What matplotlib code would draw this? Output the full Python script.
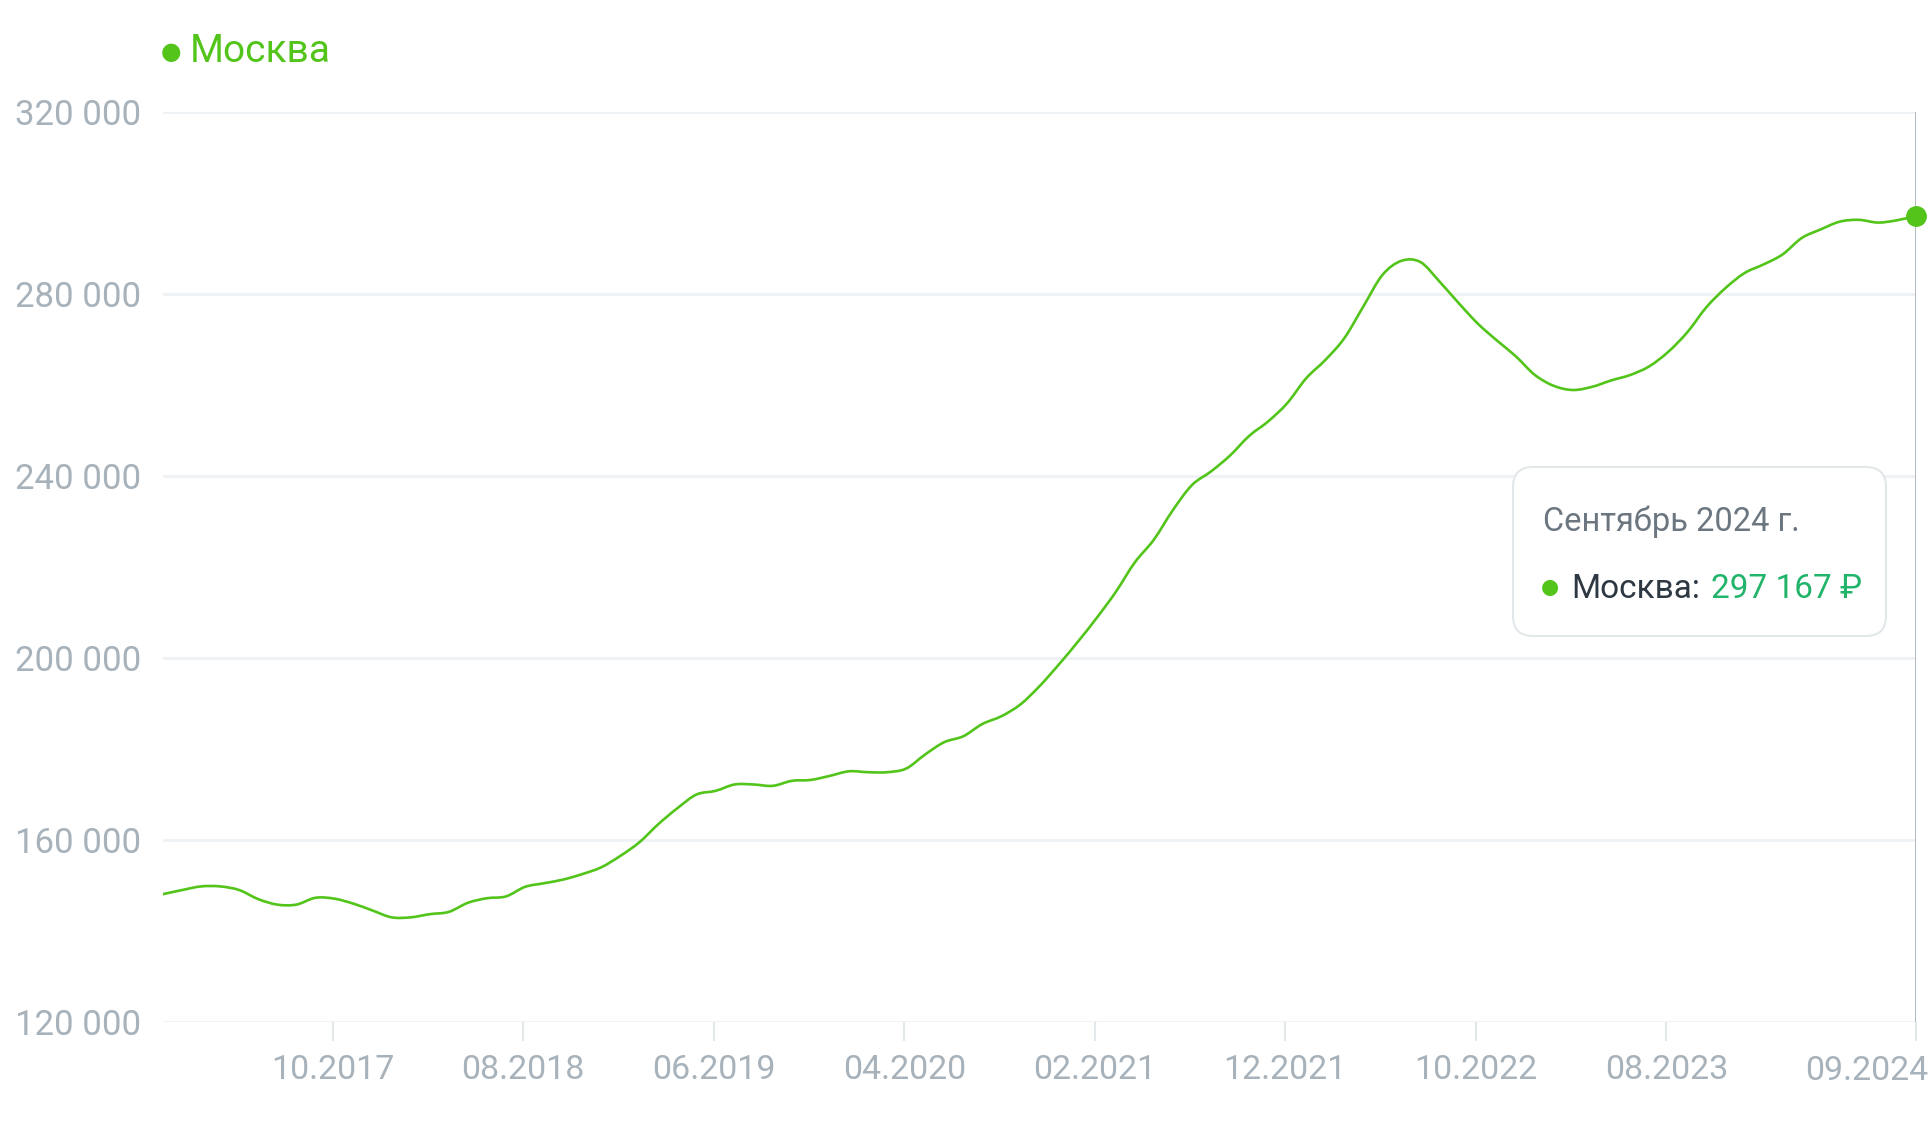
import matplotlib
matplotlib.use("Agg")
import matplotlib.pyplot as plt
from matplotlib.patches import FancyBboxPatch, PathPatch
from matplotlib.path import Path
from matplotlib.transforms import IdentityTransform

plt.rcParams['font.family'] = ['Roboto', 'DejaVu Sans']

# средняя цена, руб. за м2, помесячно 01.2017 - 09.2024
months = list(range(93))
price = [
    148100, 149000, 149800, 149800, 149000, 147000, 145800, 145800, 147300, 147100,
    146000, 144500, 143000, 143000, 143700, 144200, 146200, 147200, 147600, 149700,
    150500, 151300, 152500, 154000, 156500, 159500, 163500, 167000, 170000, 170800,
    172200, 172200, 171900, 173000, 173200, 174100, 175100, 174900, 174900, 175700,
    178800, 181500, 182800, 185500, 187200, 189800, 193800, 198500, 203500, 208800,
    214500, 221000, 226000, 232500, 238000, 241000, 244500, 248800, 252000, 256000,
    261500, 265500, 270300, 277300, 284200, 287300, 287000, 282700, 278000, 273500,
    269800, 266300, 262200, 259800, 258900, 259600, 261000, 262200, 264100, 267300,
    271600, 277100, 281300, 284600, 286500, 288700, 292300, 294200, 295900, 296300,
    295700, 296200, 297167,
]
tick_pos = [8.9, 18.9, 28.9, 38.9, 48.9, 58.9, 68.9, 78.9, 92]
tick_labels = ['10.2017', '08.2018', '06.2019', '04.2020', '02.2021',
               '12.2021', '10.2022', '08.2023', '09.2024']
y_ticks = [120000, 160000, 200000, 240000, 280000, 320000]
y_labels = ['120 000', '160 000', '200 000', '240 000', '280 000', '320 000']

green = '#52c41a'
grey_txt = '#a7b2bb'
grid_c = '#eef2f4'

W, H = 1929, 1122
fig = plt.figure(figsize=(W / 100, H / 100), dpi=100)
ax = fig.add_axes([163 / W, 1 - 1022 / H, (1916 - 163) / W, (1022 - 112) / H])

ax.set_xlim(0, 92)
ax.set_ylim(120000, 320000)
for s in ax.spines.values():
    s.set_visible(False)

ax.set_yticks(y_ticks)
ax.set_yticklabels(y_labels)
ax.set_xticks(tick_pos)
ax.set_xticklabels(tick_labels[:-1] + [''])
ax.grid(axis='y', color=grid_c, lw=2, zorder=0)
ax.tick_params(axis='y', length=0, pad=16, labelsize=25, labelcolor=grey_txt)
ax.tick_params(axis='x', length=14, width=1.5, color='#e3e8eb', pad=9,
               labelsize=24.5, labelcolor=grey_txt)
ax.set_axisbelow(True)
# последняя подпись прижата к правому краю
fig.text(1928 / W, 1 - 1071 / H, tick_labels[-1], color=grey_txt, fontsize=24.5,
         ha='right', va='center')

# сглаженная линия (кривые Безье через точки данных)
verts = [(months[0], price[0])]
codes = [Path.MOVETO]
n = len(months)
for i in range(n - 1):
    x0, y0 = months[max(i - 1, 0)], price[max(i - 1, 0)]
    x1, y1 = months[i], price[i]
    x2, y2 = months[i + 1], price[i + 1]
    x3, y3 = months[min(i + 2, n - 1)], price[min(i + 2, n - 1)]
    verts += [(x1 + (x2 - x0) / 6, y1 + (y2 - y0) / 6),
              (x2 - (x3 - x1) / 6, y2 - (y3 - y1) / 6),
              (x2, y2)]
    codes += [Path.CURVE4] * 3
line = PathPatch(Path(verts, codes), facecolor='none', edgecolor=green, lw=1.9,
                 zorder=3, capstyle='round', joinstyle='round')
ax.add_patch(line)

ax.axvline(months[-1], color='#a9b3bb', lw=2, zorder=2)
ax.plot(months[-1], price[-1], 'o', color=green, ms=14, zorder=5, clip_on=False)

# легенда
fig.text(171 / W, 1 - 52 / H, '\u25cf', color=green, fontsize=17, ha='center', va='center')
fig.text(190 / W, 1 - 51.5 / H, 'Москва', color=green, fontsize=28, ha='left', va='center')

# всплывающая подсказка
box = FancyBboxPatch((1513, H - 636), 1886 - 1513, 636 - 467,
                     boxstyle='round,pad=0,rounding_size=20',
                     transform=IdentityTransform(), facecolor='white',
                     edgecolor='#e2e7ea', lw=1.5, zorder=10)
fig.patches.append(box)
fig.text(1543 / W, 1 - 521.5 / H, 'Сентябрь 2024 г.', color='#6b7680', fontsize=23.5,
         ha='left', va='center', zorder=11)
fig.text(1550 / W, 1 - 587 / H, '\u25cf', color=green, fontsize=15, ha='center', va='center',
         zorder=11)
fig.text(1571 / W, 1 - 589 / H, 'Москва:', color='#2d3843', fontsize=24,
         ha='left', va='center', zorder=11)
fig.text(1711 / W, 1 - 589 / H, '297 167 ₽', color='#22b46a', fontsize=24,
         ha='left', va='center', zorder=11)

fig.savefig('out.png', dpi=100, facecolor='white')
